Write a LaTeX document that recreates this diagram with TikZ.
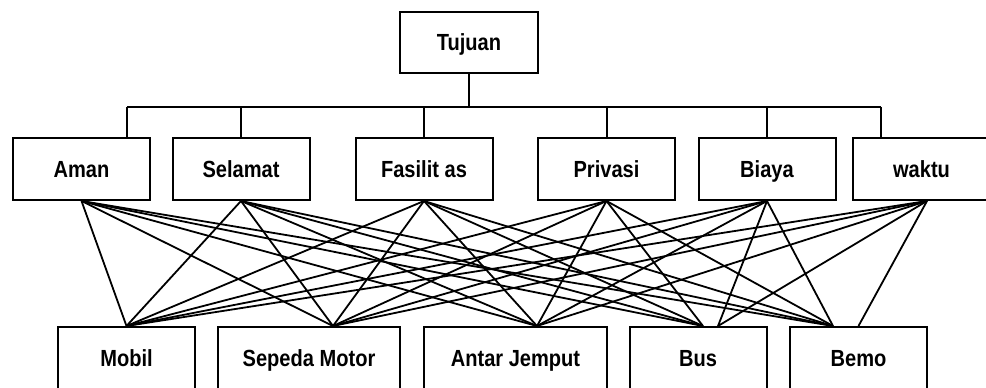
\documentclass[tikz,border=0pt]{standalone}
\usepackage{fontspec}
\setmainfont[FakeStretch=0.86]{Liberation Sans}
\usetikzlibrary{calc}
\begin{document}
\begin{tikzpicture}[x=0.75pt,y=-0.75pt,
  box/.style={draw, line width=1.5pt, minimum width=102.75pt, minimum height=46.5pt, inner sep=0pt, text height=12.5pt, text depth=0pt, font=\bfseries\fontsize{17.5}{20}\selectfont},
  link/.style={line width=1.35pt},
  tree/.style={line width=1.5pt}]
\useasboundingbox (0,0) rectangle (986,388);
% top
\node[box, minimum width=103.5pt, minimum height=45.75pt] (tujuan) at (469,42.5) {Tujuan};
% criteria
\node[box] (aman) at (81.5,169) {Aman};
\node[box] (selamat) at (241,169) {Selamat};
\node[box] (fasilitas) at (424,169) {Fasilit as};
\node[box] (privasi) at (606.5,169) {Privasi};
\node[box] (biaya) at (767,169) {Biaya};
\node[box] (waktu) at (921.5,169) {waktu};
% alternatives
\node[box] (mobil) at (126.5,358) {Mobil};
\node[box, minimum width=136.5pt] (sepeda) at (309,358) {Sepeda Motor};
\node[box, minimum width=137.25pt] (antar) at (515.5,358) {Antar Jemput};
\node[box] (bus) at (698,358) {Bus};
\node[box] (bemo) at (858.5,358) {Bemo};
% tree connectors
\coordinate (bar) at ($(tujuan.south)+(0,33)$);
\coordinate (t1) at ($(aman.north)+(45.5,0)$);
\coordinate (t6) at ($(waktu.north)+(-40.5,0)$);
\draw[tree] (tujuan.south) -- (bar);
\draw[tree] (t1 |- bar) -- (t6 |- bar);
\draw[tree] (t1 |- bar) -- (t1);
\draw[tree] (selamat.north |- bar) -- (selamat.north);
\draw[tree] (fasilitas.north |- bar) -- (fasilitas.north);
\draw[tree] (privasi.north |- bar) -- (privasi.north);
\draw[tree] (biaya.north |- bar) -- (biaya.north);
\draw[tree] (t6 |- bar) -- (t6);
% link end points
\coordinate (s1) at (aman.south);
\coordinate (s2) at (selamat.south);
\coordinate (s3) at (fasilitas.south);
\coordinate (s4) at (privasi.south);
\coordinate (s5) at (biaya.south);
\coordinate (s6) at ($(waktu.south)+(5.5,0)$);
\coordinate (m) at (mobil.north);
\coordinate (sm) at ($(sepeda.north)+(24,0)$);
\coordinate (aj) at ($(antar.north)+(21.5,0)$);
\coordinate (bsa) at ($(bus.north)+(5,0)$);
\coordinate (bsb) at ($(bus.north)+(20,0)$);
\coordinate (bma) at ($(bemo.north)+(-25.5,0)$);
\coordinate (bmb) at (bemo.north);
% links
\foreach \s in {s1,s2,s3,s4,s5,s6} {
  \draw[link] (\s) -- (m);
  \draw[link] (\s) -- (sm);
  \draw[link] (\s) -- (aj);
}
\foreach \s in {s1,s2,s3,s4} {
  \draw[link] (\s) -- (bsa);
  \draw[link] (\s) -- (bma);
}
\draw[link] (s5) -- (bsb);
\draw[link] (s6) -- (bsb);
\draw[link] (s5) -- (bma);
\draw[link] (s6) -- (bmb);
\end{tikzpicture}
\end{document}
